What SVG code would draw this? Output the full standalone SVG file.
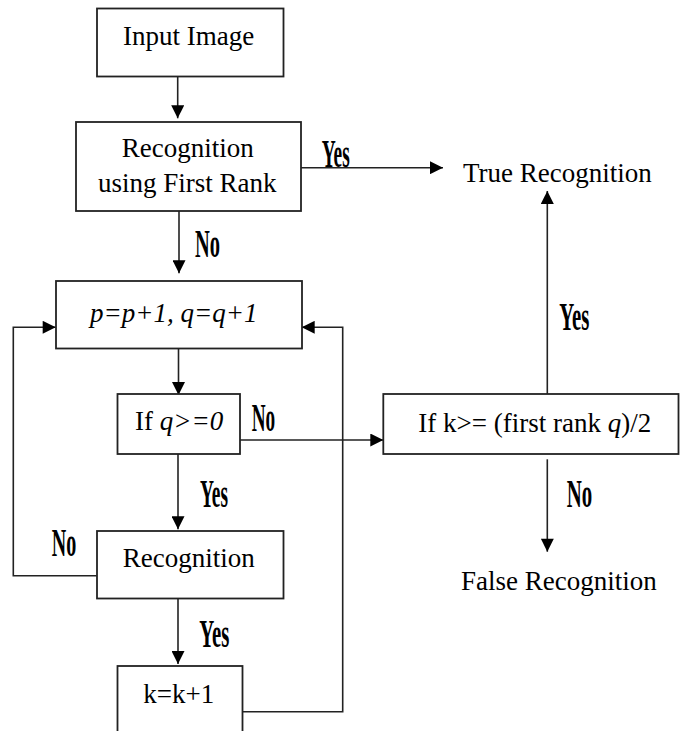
<svg xmlns="http://www.w3.org/2000/svg" width="680" height="731" viewBox="0 0 680 731">
<style>
.box{fill:#fff;stroke:#222;stroke-width:1.8}
.t{font-family:'Liberation Serif','Times New Roman','DejaVu Serif',serif;font-size:27px;fill:#000}
.i{font-style:italic}
.lb{font-family:'Liberation Serif','Times New Roman','DejaVu Serif',serif;font-size:40px;font-weight:bold;fill:#000}
.c{fill:none;stroke:#222;stroke-width:1.6}
</style>
<defs>
<marker id="ah" viewBox="0 0 14 14" refX="14" refY="7" markerWidth="14" markerHeight="13" orient="auto" markerUnits="userSpaceOnUse">
<path d="M0,0 L14,7 L0,14 z" fill="#000"/>
</marker>
</defs>
<rect width="680" height="731" fill="#fff"/>
<g id="connectors">
<path class="c" d="M177.7,76.7 V118.3" marker-end="url(#ah)"/>
<path class="c" d="M301,167.7 H443" marker-end="url(#ah)"/>
<path class="c" d="M179,211 V273.3" marker-end="url(#ah)"/>
<path class="c" d="M178.5,348.3 V395" marker-end="url(#ah)"/>
<path class="c" d="M240,440 H383.3" marker-end="url(#ah)"/>
<path class="c" d="M178,454 V529.3" marker-end="url(#ah)"/>
<path class="c" d="M96.7,575.7 H13.3 V327.3 H55.7" marker-end="url(#ah)"/>
<path class="c" d="M178,598.3 V664" marker-end="url(#ah)"/>
<path class="c" d="M242.3,711.7 H342.7 V327.3 H301.7" marker-end="url(#ah)"/>
<path class="c" d="M547.3,394 V191" marker-end="url(#ah)"/>
<path class="c" d="M547.3,459.3 V551.7" marker-end="url(#ah)"/>
<text class="lb" x="321.7" y="166.7" textLength="28" lengthAdjust="spacingAndGlyphs">Yes</text>
<text class="lb" x="195" y="256.7" textLength="25" lengthAdjust="spacingAndGlyphs">No</text>
<text class="lb" x="251.7" y="430.7" textLength="23.5" lengthAdjust="spacingAndGlyphs">No</text>
<text class="lb" x="200" y="506.7" textLength="28" lengthAdjust="spacingAndGlyphs">Yes</text>
<text class="lb" x="51.7" y="556" textLength="24.5" lengthAdjust="spacingAndGlyphs">No</text>
<text class="lb" x="199.3" y="646.7" textLength="30" lengthAdjust="spacingAndGlyphs">Yes</text>
<text class="lb" x="559.3" y="330" textLength="30" lengthAdjust="spacingAndGlyphs">Yes</text>
<text class="lb" x="566.7" y="506.7" textLength="25.5" lengthAdjust="spacingAndGlyphs">No</text>
</g>
<g id="input">
<rect class="box" x="97" y="8.5" width="186.5" height="68"/>
<text class="t" x="123" y="45">Input Image</text>
</g>
<g id="firstrank">
<rect class="box" x="76" y="122" width="225" height="89"/>
<text class="t" x="121.7" y="156.7">Recognition</text>
<text class="t" x="98" y="191.7">using First Rank</text>
</g>
<g id="true">
<text class="t" x="463" y="182">True Recognition</text>
</g>
<g id="pq">
<rect class="box" x="56" y="281" width="246" height="67.5"/>
<text class="t i" x="90" y="321.7">p=p+1, q=q+1</text>
</g>
<g id="ifq">
<rect class="box" x="117.5" y="394" width="122.5" height="60"/>
<text class="t" x="135" y="430">If <tspan class="i">q&gt;=0</tspan></text>
</g>
<g id="ifk">
<rect class="box" x="383.3" y="394" width="295.2" height="60"/>
<text class="t" x="418.3" y="431.7">If k&gt;= (first rank <tspan class="i">q</tspan>)/2</text>
</g>
<g id="false">
<text class="t" x="461" y="590">False Recognition</text>
</g>
<g id="recog">
<rect class="box" x="97" y="531" width="186.5" height="67.5"/>
<text class="t" x="122.7" y="566.7">Recognition</text>
</g>
<g id="kinc">
<rect class="box" x="117.5" y="666" width="125" height="80"/>
<text class="t" x="143.3" y="702.7">k=k+1</text>
</g>
</svg>
